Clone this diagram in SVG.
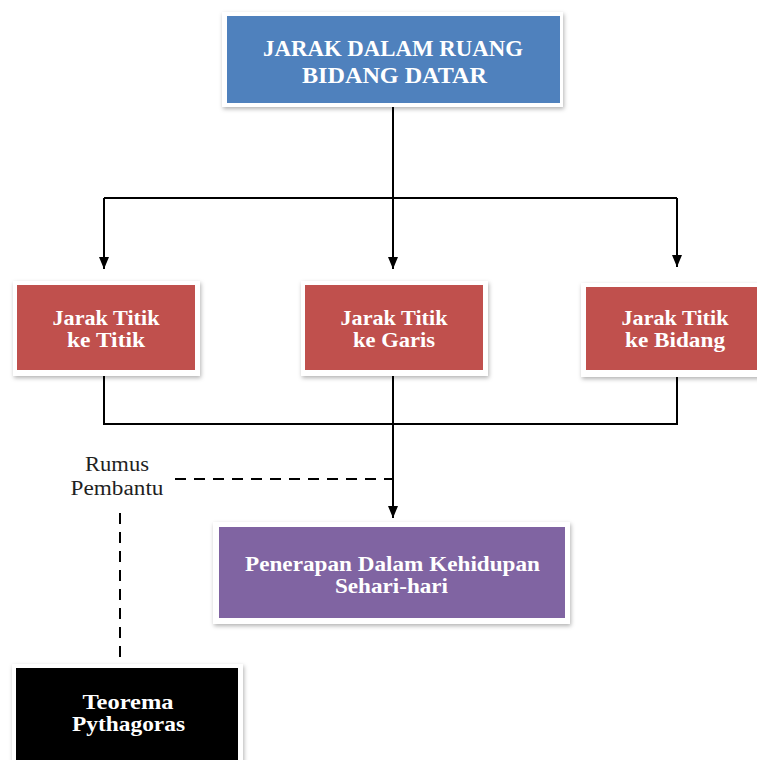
<svg xmlns="http://www.w3.org/2000/svg" width="757" height="760" viewBox="0 0 757 760">
<defs>
<filter id="sh" x="-10%" y="-10%" width="120%" height="130%">
<feDropShadow dx="1" dy="2" stdDeviation="2" flood-color="#000" flood-opacity="0.3"/>
</filter>
<marker id="arr" markerUnits="userSpaceOnUse" markerWidth="12" markerHeight="10" refX="12" refY="5" orient="auto">
<path d="M0,0 L12,5 L0,10 z" fill="#000"/>
</marker>
<style>
.frame{fill:#fff;filter:url(#sh);}
.t{font-family:"Liberation Serif","Times New Roman",serif;font-weight:bold;fill:#fff;text-anchor:middle;}
.lab{font-family:"Liberation Serif","Times New Roman",serif;font-size:20px;fill:#1f1f1f;text-anchor:middle;}
.ln{fill:none;stroke:#000;stroke-width:2;}
.dash{fill:none;stroke:#000;stroke-width:2;stroke-dasharray:11 8;}
</style>
</defs>
<rect width="757" height="760" fill="#fff"/>
<g id="connectors">
<path class="ln" d="M393,107 V198 M104,198 H677"/>
<path class="ln" d="M104,198 V269" marker-end="url(#arr)"/>
<path class="ln" d="M393,198 V269" marker-end="url(#arr)"/>
<path class="ln" d="M677,198 V267" marker-end="url(#arr)"/>
<path class="ln" d="M104,376 V424 H677 V377"/>
<path class="ln" d="M393,376 V518" marker-end="url(#arr)"/>
<path class="dash" d="M175,479 H392"/>
<path class="dash" d="M120,513 V664"/>
</g>
<g id="node-title">
<rect class="frame" x="222" y="12" width="341" height="95"/>
<rect x="227" y="16" width="333" height="87" fill="#4F81BD"/>
<text class="t" font-size="24" x="393" y="56" textLength="260" lengthAdjust="spacingAndGlyphs">JARAK DALAM RUANG</text>
<text class="t" font-size="24" x="394.5" y="83" textLength="185" lengthAdjust="spacingAndGlyphs">BIDANG DATAR</text>
</g>
<g id="node-titik">
<rect class="frame" x="13" y="281" width="187" height="95"/>
<rect x="17" y="285" width="178" height="85" fill="#C0504D"/>
<text class="t" font-size="21" x="106" y="325" textLength="107" lengthAdjust="spacingAndGlyphs">Jarak Titik</text>
<text class="t" font-size="21" x="106" y="347" textLength="78" lengthAdjust="spacingAndGlyphs">ke Titik</text>
</g>
<g id="node-garis">
<rect class="frame" x="301" y="281" width="187" height="95"/>
<rect x="305" y="285" width="178" height="85" fill="#C0504D"/>
<text class="t" font-size="21" x="394" y="325" textLength="107" lengthAdjust="spacingAndGlyphs">Jarak Titik</text>
<text class="t" font-size="21" x="394" y="347" textLength="82" lengthAdjust="spacingAndGlyphs">ke Garis</text>
</g>
<g id="node-bidang">
<rect class="frame" x="581" y="283" width="200" height="94"/>
<rect x="586" y="287" width="178" height="83" fill="#C0504D"/>
<text class="t" font-size="21" x="675" y="325" textLength="107" lengthAdjust="spacingAndGlyphs">Jarak Titik</text>
<text class="t" font-size="21" x="675" y="347" textLength="100" lengthAdjust="spacingAndGlyphs">ke Bidang</text>
</g>
<g id="node-rumus">
<text class="lab" x="117" y="471" textLength="64" lengthAdjust="spacingAndGlyphs">Rumus</text>
<text class="lab" x="117" y="495" textLength="93" lengthAdjust="spacingAndGlyphs">Pembantu</text>
</g>
<g id="node-penerapan">
<rect class="frame" x="213" y="522" width="357" height="102"/>
<rect x="219" y="527" width="346" height="91" fill="#8064A2"/>
<text class="t" font-size="21" x="392.5" y="571" textLength="295" lengthAdjust="spacingAndGlyphs">Penerapan Dalam Kehidupan</text>
<text class="t" font-size="21" x="391.5" y="593" textLength="113" lengthAdjust="spacingAndGlyphs">Sehari-hari</text>
</g>
<g id="node-pythagoras">
<rect class="frame" x="12" y="664" width="231" height="110"/>
<rect x="16" y="668" width="222" height="100" fill="#000"/>
<text class="t" font-size="21" x="128" y="709" textLength="91" lengthAdjust="spacingAndGlyphs">Teorema</text>
<text class="t" font-size="21" x="128.5" y="731" textLength="113" lengthAdjust="spacingAndGlyphs">Pythagoras</text>
</g>
</svg>
